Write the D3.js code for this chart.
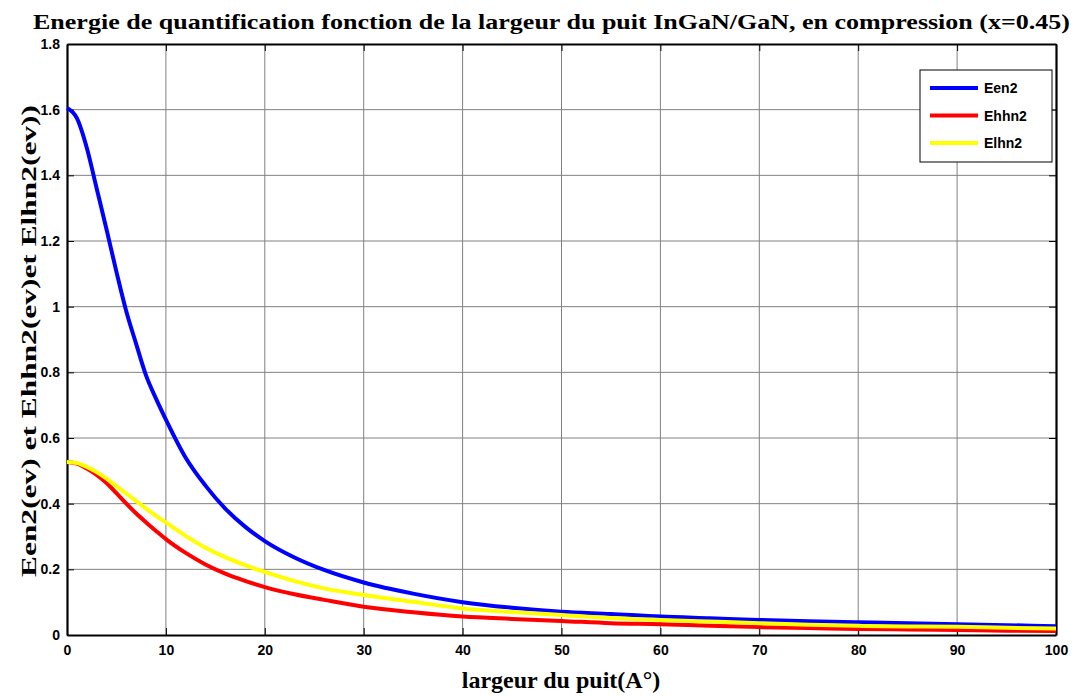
<!DOCTYPE html>
<html><head><meta charset="utf-8">
<script src="https://cdn.jsdelivr.net/npm/d3@7"></script>
<style>body{margin:0;background:#fff}svg{display:block}</style>
</head><body>
<script>
const xs = [0,1,2,3,4,5,6,7,8,9,10,12,14,16,18,20,23,26,30,35,40,45,50,55,60,65,70,75,80,85,90,95,100];
const een2 = [1.605,1.574,1.484,1.36,1.235,1.106,0.985,0.886,0.790,0.720,0.656,0.540,0.455,0.385,0.330,0.286,0.236,0.198,0.160,0.126,0.100,0.083,0.071,0.064,0.056,0.051,0.046,0.042,0.039,0.036,0.033,0.030,0.027];
const ehhn2 = [0.527,0.522,0.507,0.488,0.463,0.432,0.400,0.370,0.343,0.317,0.292,0.250,0.215,0.187,0.165,0.146,0.124,0.107,0.086,0.069,0.056,0.049,0.043,0.036,0.033,0.028,0.024,0.021,0.018,0.017,0.015,0.013,0.012];
const elhn2 = [0.527,0.524,0.512,0.496,0.476,0.453,0.431,0.408,0.385,0.363,0.343,0.302,0.266,0.237,0.213,0.192,0.164,0.142,0.122,0.101,0.081,0.070,0.061,0.052,0.046,0.041,0.036,0.031,0.028,0.026,0.025,0.022,0.020];
const seriesNames = ["Een2","Ehhn2","Elhn2"];
const seriesColors = ["#0000ff","#ff0000","#ffff00"];
const xTicks = [0,10,20,30,40,50,60,70,80,90,100];
const yTicks = [0,0.2,0.4,0.6,0.8,1,1.2,1.4,1.6,1.8];
const titleText = "Energie de quantification fonction de la largeur du puit InGaN/GaN, en compression (x=0.45)";
const xLabel = "largeur du puit(A°)";
const yLabel = "Een2(ev) et Ehhn2(ev)et Elhn2(ev))";

const W = 1084, H = 696;
const m = {left:67, right:1056, top:44, bottom:635};
const svg = d3.select("body").append("svg").attr("width",W).attr("height",H);
const x = d3.scaleLinear().domain([0,100]).range([m.left,m.right]);
const y = d3.scaleLinear().domain([0,1.8]).range([m.bottom,m.top]);

// grid
const g = svg.append("g");
g.selectAll("line.gx").data(xTicks.slice(1,-1)).enter().append("line")
  .attr("x1",d=>x(d)).attr("x2",d=>x(d)).attr("y1",m.top).attr("y2",m.bottom)
  .attr("stroke","#808080").attr("stroke-width",1);
g.selectAll("line.gy").data(yTicks.slice(1,-1)).enter().append("line")
  .attr("y1",d=>y(d)).attr("y2",d=>y(d)).attr("x1",m.left).attr("x2",m.right)
  .attr("stroke","#808080").attr("stroke-width",1);

// axes
const fmt = d => d3.format("")(+d.toFixed(1));
const axB = d3.axisBottom(x).tickValues(xTicks).tickSizeInner(-7).tickSizeOuter(0).tickPadding(10).tickFormat(d=>d);
const axT = d3.axisTop(x).tickValues(xTicks).tickSizeInner(-7).tickSizeOuter(0).tickFormat("");
const axL = d3.axisLeft(y).tickValues(yTicks).tickSizeInner(-7).tickSizeOuter(0).tickPadding(7).tickFormat(fmt);
const axR = d3.axisRight(y).tickValues(yTicks).tickSizeInner(-7).tickSizeOuter(0).tickFormat("");
function style(sel){
  sel.selectAll("path").attr("stroke","#000").attr("stroke-width",2.2);
  sel.selectAll("line").attr("stroke","#000").attr("stroke-width",1);
  sel.selectAll("text").attr("fill","#000").attr("font-family","Liberation Sans, Arial, sans-serif")
    .attr("font-weight","bold").attr("font-size",14);
}
svg.append("g").attr("transform",`translate(0,${m.bottom})`).call(axB).call(style);
svg.append("g").attr("transform",`translate(0,${m.top})`).call(axT).call(style);
svg.append("g").attr("transform",`translate(${m.left},0)`).call(axL).call(style);
svg.append("g").attr("transform",`translate(${m.right},0)`).call(axR).call(style);

// lines
const data = [een2, ehhn2, elhn2];
const line = d3.line().x((d,i)=>x(xs[i])).y(d=>y(d)).curve(d3.curveMonotoneX);
svg.append("g").selectAll("path").data([0,1,2]).enter().append("path")
  .attr("d",i=>line(data[i])).attr("fill","none")
  .attr("stroke",i=>seriesColors[i]).attr("stroke-width",4).attr("stroke-linejoin","round");

// legend
const lg = svg.append("g");
lg.append("rect").attr("x",920).attr("y",70).attr("width",132).attr("height",92)
  .attr("fill","#fff").attr("stroke","#000").attr("stroke-width",1);
seriesNames.forEach((n,i)=>{
  const yy = 88 + i*27.5;
  lg.append("line").attr("x1",930).attr("x2",978).attr("y1",yy).attr("y2",yy)
    .attr("stroke",seriesColors[i]).attr("stroke-width",4);
  lg.append("text").attr("x",984).attr("y",yy+5).text(n)
    .attr("font-family","Liberation Sans, Arial, sans-serif").attr("font-weight","bold").attr("font-size",14);
});

// titles
svg.append("text").attr("x",33).attr("y",29).text(titleText)
  .attr("font-family","Liberation Serif, Times New Roman, serif").attr("font-weight","bold")
  .attr("font-size",22).attr("textLength",1037).attr("lengthAdjust","spacingAndGlyphs");
svg.append("text").attr("x",561).attr("y",688).attr("text-anchor","middle").text(xLabel)
  .attr("font-family","Liberation Serif, Times New Roman, serif").attr("font-weight","bold")
  .attr("font-size",24);
svg.append("text").attr("transform","translate(36,341) rotate(-90)").attr("text-anchor","middle").text(yLabel)
  .attr("font-family","Liberation Serif, Times New Roman, serif").attr("font-weight","bold")
  .attr("font-size",22).attr("textLength",472).attr("lengthAdjust","spacingAndGlyphs");
</script>
</body></html>
